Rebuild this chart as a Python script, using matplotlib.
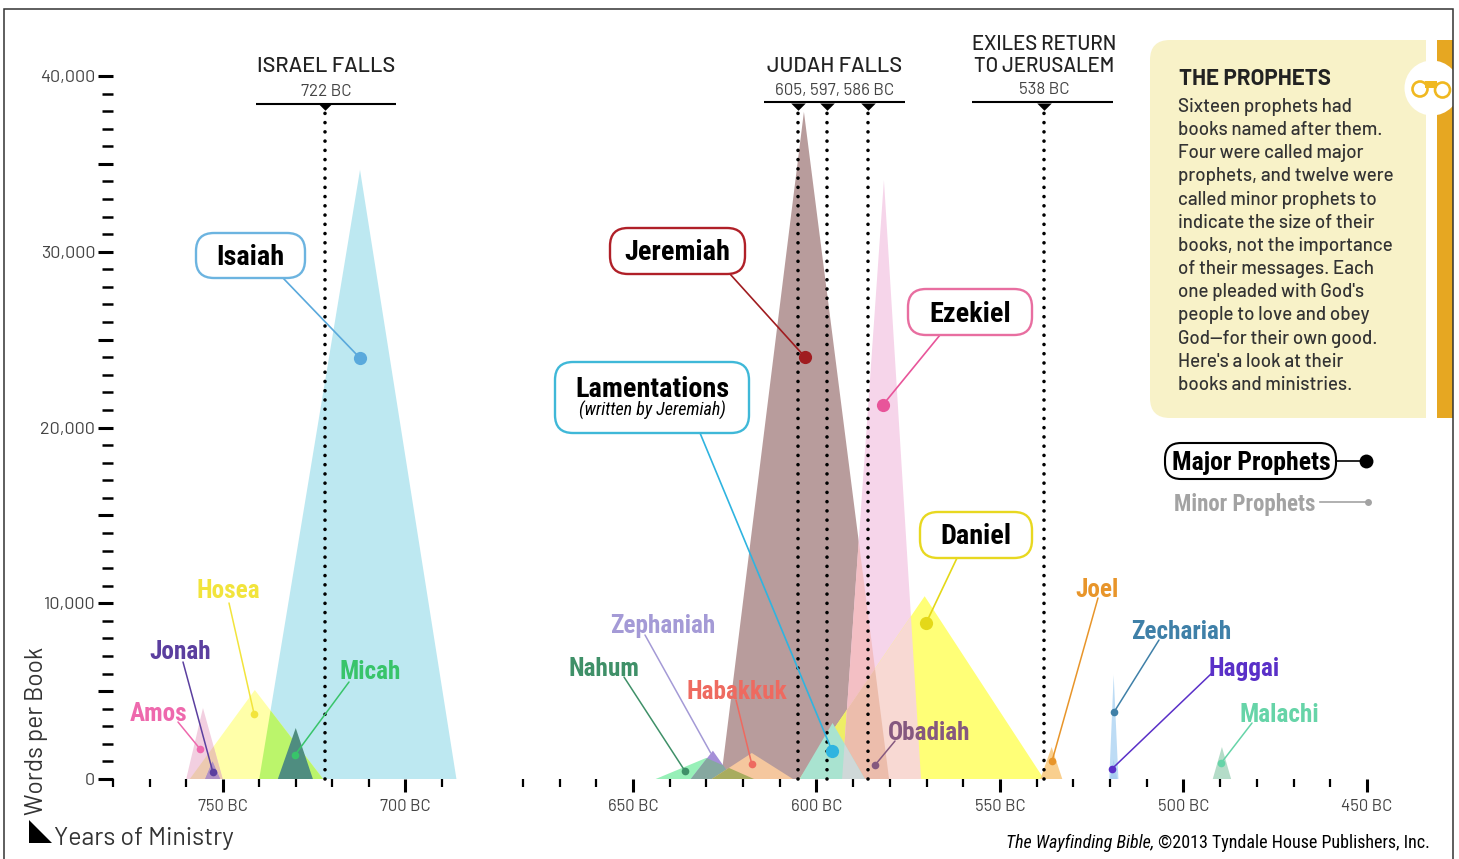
import numpy as np
from matplotlib import pyplot as plt
from matplotlib.patches import Circle, FancyBboxPatch, Polygon, Rectangle

#   GLOBAL
WIDTH = 1459
HEIGHT = 859
NARROW = ['Roboto Condensed', 'Archivo Narrow', 'Roboto']
DIN = ['Barlow', 'Roboto', 'DejaVu Sans']

#   books, one triangle each: ministry start/end in years BC, peak = words in book
book_names = ['Isaiah', 'Hosea', 'Amos', 'Jonah', 'Micah', 'Nahum', 'Jeremiah', 'Zephaniah',
              'Habakkuk', 'Ezekiel', 'Daniel', 'Lamentations', 'Obadiah', 'Joel', 'Zechariah',
              'Haggai', 'Malachi']
start_years = [740, 759, 760, 754.8, 734.9, 643.8, 626, 634.2, 628.5, 593, 604.6, 604.6, 586, 539, 520.2, 520, 492]
end_years = [686, 722.5, 750, 750.7, 725.3, 617, 580.2, 622.8, 606.4, 571.5, 538, 586.8, 582, 533, 517.7, 518, 487]
peak_years = [712.4, 741.2, 755.4, 752.8, 730, 630, 603.4, 628.2, 617.6, 581.6, 570.5, 595.6, 584, 535.9, 519, 519, 489.5]
peak_words = [34660, 5065, 4040, 1000, 2900, 1200, 37960, 1610, 1480, 34080, 10400, 3190, 650, 1820, 5920, 1100, 1820]
book_colors = ['#bde8f1', '#ffffa9', '#f2cfe0', '#b79cc8', '#4f8d80', '#97f0b8', '#b89c9c', '#a58fd8',
               '#f5c79e', '#f6d5ea', '#ffff77', '#a9e3d0', '#ecbdac', '#f9cf8e', '#bddcf5', '#a8cdf0', '#b4dcc8']

#   overlaps that have their own tint in the picture
overlap_books = [('Hosea', 'Isaiah'), ('Amos', 'Hosea'), ('Jonah', 'Amos'), ('Ezekiel', 'Jeremiah'),
                 ('Daniel', 'Jeremiah'), ('Ezekiel', 'Daniel'), ('Ezekiel', 'Jeremiah', 'Daniel'),
                 ('Zephaniah', 'Nahum'), ('Habakkuk', 'Nahum'), ('Lamentations', 'Ezekiel')]
overlap_colors = ['#bbf56b', '#ecc9b0', '#b190c4', '#f3bfc4', '#eeee66', '#f8d9d3', '#ecbdac',
                  '#86a8a0', '#a8ac5e', '#cfd8d8']

#   painter's order, singles and overlaps together
paint_order = ['Isaiah', 'Hosea', ('Hosea', 'Isaiah'), 'Amos', ('Amos', 'Hosea'), 'Jonah', ('Jonah', 'Amos'), 'Micah',
               'Nahum', 'Jeremiah', 'Zephaniah', ('Zephaniah', 'Nahum'), 'Habakkuk', ('Habakkuk', 'Nahum'),
               'Ezekiel', 'Daniel', ('Daniel', 'Jeremiah'), ('Ezekiel', 'Jeremiah'), ('Ezekiel', 'Daniel'),
               ('Ezekiel', 'Jeremiah', 'Daniel'), 'Lamentations', ('Lamentations', 'Ezekiel'), 'Obadiah',
               'Joel', 'Zechariah', 'Haggai', 'Malachi']

#   call-outs: year and word count of the dot on each triangle
major_names = ['Isaiah', 'Jeremiah', 'Ezekiel', 'Lamentations', 'Daniel']
major_years = [712.4, 603.1, 581.9, 595.7, 570.1]
major_words = [23950, 24010, 21280, 1590, 8880]
major_colors = ['#5aa9dc', '#a01c20', '#e8559a', '#2fb4e0', '#e4d818']
major_edges = ['#6cb4e0', '#b02028', '#e86ea0', '#3fb8d8', '#e8d820']

minor_names = ['Hosea', 'Jonah', 'Amos', 'Micah', 'Zephaniah', 'Nahum', 'Habakkuk', 'Obadiah', 'Joel',
               'Zechariah', 'Haggai', 'Malachi']
minor_years = [741.4, 752.7, 756.2, 730.2, 628.8, 635.8, 617.6, 584, 535.8, 518.9, 519.5, 489.7]
minor_words = [3700, 400, 1710, 1370, 1480, 450, 850, 800, 1020, 3810, 570, 910]
minor_colors = ['#f2e43c', '#5b3f9f', '#ee69ad', '#38c46a', '#a49ad6', '#3f9068', '#ee6a60', '#85587f',
                '#e8952a', '#3f80a8', '#5a30c8', '#66d4a8']

event_years = [722, 605, 597, 586, 538]
event_top_words = 38200

panel_title = 'THE PROPHETS'
panel_lines = ['Sixteen prophets had', 'books named after them.', 'Four were called major',
               'prophets, and twelve were', 'called minor prophets to', 'indicate the size of their',
               'books, not the importance', 'of their messages. Each', "one pleaded with God's",
               'people to love and obey', 'God\u2014for their own good.', "Here's a look at their",
               'books and ministries.']

x_major = [750, 700, 650, 600, 550, 500, 450]
x_minor = [780, 770, 760, 740, 730, 720, 710, 690, 680, 670, 660, 640, 630, 620, 610, 590, 580, 570, 560,
           540, 530, 520, 510, 490, 480, 470, 460]

#   layout in picture pixels (x, y from the top)
MAJOR_BOX = {'Isaiah': (196, 233, 305, 278), 'Jeremiah': (610, 228, 745, 274), 'Ezekiel': (908, 289, 1032, 335),
             'Lamentations': (555, 362, 749, 433), 'Daniel': (920, 512, 1032, 558)}
MAJOR_LEADER = {'Isaiah': (283, 278), 'Jeremiah': (730, 274), 'Ezekiel': (940, 335),
                'Lamentations': (700, 433), 'Daniel': (957, 558)}
MINOR_TEXT = {'Hosea': (228, 589), 'Jonah': (180, 650), 'Amos': (159, 712), 'Micah': (370, 670),
              'Zephaniah': (663, 624), 'Nahum': (604, 667), 'Habakkuk': (737, 690), 'Obadiah': (929, 731),
              'Joel': (1097, 588), 'Zechariah': (1181, 630), 'Haggai': (1244, 667), 'Malachi': (1279, 713)}
MINOR_LEADER = {'Hosea': (229, 603), 'Jonah': (183, 662), 'Amos': (178, 722), 'Micah': (349, 682),
                'Zephaniah': (645, 635), 'Nahum': (624, 677), 'Habakkuk': (736, 700), 'Obadiah': (895, 741),
                'Joel': (1098, 598), 'Zechariah': (1159, 640), 'Haggai': (1212, 673), 'Malachi': (1252, 723)}
TEXT_DY = 2


def year_to_px(year):
    year = np.asarray(year, dtype=float)
    return np.where(year >= 684, 222.7 + (750 - year) * 3.652, 816.4 + (600 - year) * 3.67)


def px_to_year(px):
    px = np.asarray(px, dtype=float)
    return np.where(px <= 485, 750 - (px - 222.7) / 3.652, 600 - (px - 816.4) / 3.67)


def time_forward(year):
    #   the time axis jumps between 690 and 680 BC; negative so the scale keeps rising
    return -year_to_px(year)


def time_inverse(value):
    return px_to_year(-np.asarray(value, dtype=float))


def clip_triangle(subject, window):
    #   Sutherland-Hodgman, both convex
    output = list(subject)
    a0, a1, a2 = [np.array(p, dtype=float) for p in window]
    u, v = a1 - a0, a2 - a0
    sign = np.sign(u[0] * v[1] - u[1] * v[0])

    def side(a, b, p):
        d = b - a
        return sign * (d[0] * (p[1] - a[1]) - d[1] * (p[0] - a[0]))

    for i in range(3):
        a, b = np.array(window[i], dtype=float), np.array(window[(i + 1) % 3], dtype=float)
        current, output = output, []
        for j, p in enumerate(current):
            q = current[(j + 1) % len(current)]
            sp, sq = side(a, b, p), side(a, b, q)
            if sp >= 0:
                output.append(p)
            if (sp >= 0) != (sq >= 0):
                t = sp / (sp - sq)
                output.append((p[0] + t * (q[0] - p[0]), p[1] + t * (q[1] - p[1])))
        if not output:
            return []
    return output


def main():

    fig = plt.figure(figsize=(WIDTH / 100, HEIGHT / 100), dpi=100, facecolor='white')

    #   chart axes fill the figure, so that year/word scales land on the picture's pixels
    ax = fig.add_axes([0, 0, 1, 1], facecolor='none')
    ax.set_xscale('function', functions=(time_forward, time_inverse))
    x_left, x_right = float(px_to_year(0)), float(px_to_year(WIDTH))
    y_bottom, y_top = (779 - HEIGHT) / 0.017575, 779 / 0.017575

    #   overlay axes in picture pixels for boxes and texts
    ov = fig.add_axes([0, 0, 1, 1], facecolor='none', zorder=3)
    ov.set_xlim(0, WIDTH)
    ov.set_ylim(HEIGHT, 0)
    ov.axis('off')

    ########################
    #   triangles
    triangles = {}
    for i, name in enumerate(book_names):
        triangles[name] = [(start_years[i], 0), (peak_years[i], peak_words[i]), (end_years[i], 0)]

    for order, item in enumerate(paint_order):
        if isinstance(item, str):
            region, color = triangles[item], book_colors[book_names.index(item)]
        else:
            region = triangles[item[0]]
            for other in item[1:]:
                region = clip_triangle(region, triangles[other])
            color = overlap_colors[overlap_books.index(item)]
        if len(region) > 2:
            ax.add_patch(Polygon(region, closed=True, fc=color, ec='none', zorder=2 + order * 0.01))

    #   event lines
    ax.vlines(event_years, 0, event_top_words, colors='black', lw=2.6, zorder=4,
              linestyles=[(0, (0.01, 2.55))], capstyle='round')
    ax.plot(event_years, [event_top_words + 250] * len(event_years), ls='none',
            marker=[(-1, 0), (1, 0), (0, -1)], ms=10.5, mfc='black', mec='black', mew=0, zorder=4)

    ########################
    #   axes ticks
    for side in ['top', 'right', 'left', 'bottom']:
        ax.spines[side].set_visible(False)
    ax.spines['left'].set_position(('data', 780))
    ax.spines['bottom'].set_position(('data', 0))

    ax.set_xticks(x_major)
    ax.set_xticklabels(['%d BC' % y for y in x_major], fontfamily=DIN, fontsize=12, color='#444444')
    ax.set_xticks(x_minor, minor=True)
    ax.tick_params(axis='x', which='major', length=9.5, width=2.2, direction='out', pad=5)
    ax.tick_params(axis='x', which='minor', length=6, width=1.6, direction='out')

    y_major = np.arange(0, 40001, 5000)
    ax.set_yticks(y_major)
    ax.set_yticklabels(['{:,}'.format(v) if v % 10000 == 0 else '' for v in y_major],
                       fontfamily=DIN, fontsize=13, color='#444444')
    ax.set_yticks(np.arange(0, 40001, 1000), minor=True)
    ax.tick_params(axis='y', which='major', length=10.8, width=2.2, direction='out', pad=2)
    ax.tick_params(axis='y', which='minor', length=8, width=1.8, direction='out')

    #   limits after the ticks, which would widen them
    ax.set_xlim(x_left, x_right)
    ax.set_ylim(y_bottom, y_top)

    ########################
    #   call-outs
    for i, name in enumerate(major_names):
        x0, y0, x1, y1 = MAJOR_BOX[name]
        ov.add_patch(FancyBboxPatch((x0 + 16, y0 + 16), x1 - x0 - 32, y1 - y0 - 32,
                                    boxstyle='round,pad=16,rounding_size=18', fc='white',
                                    ec=major_edges[i], lw=1.7, zorder=3))
        cx, cy = (x0 + x1) / 2, (y0 + y1) / 2 + TEXT_DY
        if name == 'Lamentations':
            ov.text(cx, cy - 10, name, ha='center', va='center', fontfamily=NARROW, fontweight='bold',
                    fontsize=20.3, color='black', zorder=4)
            ov.text(cx, cy + 11, '(written by Jeremiah)', ha='center', va='center', fontfamily=NARROW,
                    fontstyle='italic', fontsize=13, color='black', zorder=4)
        else:
            ov.text(cx, cy, name, ha='center', va='center', fontfamily=NARROW, fontweight='bold',
                    fontsize=20.3, color='black', zorder=4)
        ax.annotate('', xy=(major_years[i], major_words[i]), xytext=MAJOR_LEADER[name], textcoords=ov.transData,
                    arrowprops=dict(arrowstyle='-', color=major_colors[i], lw=1.2, shrinkA=0, shrinkB=0), zorder=5)
        ax.plot(major_years[i], major_words[i], marker='o', ms=9.5, mew=0, color=major_colors[i], zorder=6)

    for i, name in enumerate(minor_names):
        tx, ty = MINOR_TEXT[name]
        ov.text(tx, ty + TEXT_DY, name, ha='center', va='center', fontfamily=NARROW, fontweight='bold',
                fontsize=18.2, color=minor_colors[i], zorder=4)
        ax.annotate('', xy=(minor_years[i], minor_words[i]), xytext=MINOR_LEADER[name], textcoords=ov.transData,
                    arrowprops=dict(arrowstyle='-', color=minor_colors[i], lw=1.1, shrinkA=0, shrinkB=0), zorder=5)
        if name != 'Zephaniah':
            ax.plot(minor_years[i], minor_words[i], marker='o', ms=5.5, mew=0, color=minor_colors[i], zorder=6)

    ########################
    #   event headings
    for title, sub, cx, ys, line_x, line_y, size in [
            (['ISRAEL FALLS'], '722 BC', 326, [66], (256, 396), 104, 15.6),
            (['JUDAH FALLS'], '605, 597, 586 BC', 835, [65], (764, 905), 102, 15.6),
            (['EXILES RETURN', 'TO JERUSALEM'], '538 BC', 1044, [44, 65], (972, 1113), 102, 14.6)]:
        for line, y in zip(title, ys):
            ov.text(cx, y + TEXT_DY - 1, line, ha='center', va='center', fontfamily=DIN, fontweight='medium',
                    fontsize=size, color='#222222')
        ov.text(cx, (90 if line_y == 104 else 89) + TEXT_DY - 1, sub, ha='center', va='center', fontfamily=DIN,
                fontsize=12.2, color='#444444')
        ov.plot(line_x, [line_y, line_y], color='black', lw=1.5, solid_capstyle='butt')

    ########################
    #   side panel
    panel = '#f8f2c8'
    ov.add_patch(FancyBboxPatch((1170, 60), 210, 338, boxstyle='round,pad=20,rounding_size=20', fc=panel, ec='none'))
    ov.add_patch(Rectangle((1300, 40), 126, 378, fc=panel, ec='none'))
    ov.add_patch(Rectangle((1437, 40), 16, 378, fc='#e6a722', ec='none'))
    ov.add_patch(Circle((1432, 88), 27.5, fc='white', ec='none'))
    for cx, cy in [(1420, 89), (1442.5, 90)]:
        ov.add_patch(Circle((cx, cy), 7.5, fc='none', ec='#f0b820', lw=1.9))
    ov.add_patch(Rectangle((1425, 81), 12, 7, fc='#f0b820', ec='none'))
    ov.add_patch(Rectangle((1453, 0), 6, HEIGHT, fc='white', ec='none'))

    ov.text(1179, 77 + TEXT_DY, panel_title, ha='left', va='center', fontfamily=DIN, fontweight='bold', fontsize=16,
            color='#222222')
    for i, line in enumerate(panel_lines):
        ov.text(1178, 105 + TEXT_DY + 23.15 * i, line, ha='left', va='center', fontfamily=DIN, fontweight='medium',
                fontsize=13.5, color='#333333')

    #   legend
    ov.add_patch(FancyBboxPatch((1181, 459), 139, 4, boxstyle='round,pad=16,rounding_size=16', fc='white',
                                ec='black', lw=1.5))
    ov.text(1251, 461 + TEXT_DY, 'Major Prophets', ha='center', va='center', fontfamily=NARROW, fontweight='bold',
            fontsize=18.5, color='black')
    ov.plot([1336, 1366], [461, 461], color='black', lw=1.2)
    ov.plot(1366, 461, marker='o', ms=10, mew=0, color='black')
    ov.text(1174, 502 + TEXT_DY, 'Minor Prophets', ha='left', va='center', fontfamily=NARROW, fontweight='bold',
            fontsize=16.5, color='#a3a3a3')
    ov.plot([1320, 1368], [502, 502], color='#a3a3a3', lw=1.2)
    ov.plot(1368, 502, marker='o', ms=5, mew=0, color='#a3a3a3')

    ########################
    #   axis captions and credit
    ov.text(37, 815, 'Words per Book', rotation=90, ha='center', va='bottom', fontfamily=DIN, fontsize=17.6,
            color='#333333')
    ov.add_patch(Polygon([(29, 820), (29, 843), (52, 843)], closed=True, fc='black', ec='none'))
    ov.text(54, 838, 'Years of Ministry', ha='left', va='center', fontfamily=DIN, fontsize=18, color='#333333')
    credit = ov.text(1430, 843, ' \u00a92013 Tyndale House Publishers, Inc.', ha='right', va='center',
                     fontfamily=NARROW, fontsize=13, color='black')
    ov.annotate('The Wayfinding Bible,', xy=(0, 0), xycoords=credit, ha='right', va='bottom',
                fontfamily=NARROW, fontstyle='italic', fontsize=13, color='black')

    #   frame, open at the bottom
    ov.plot([4, 4, 1453, 1453], [HEIGHT, 9, 9, HEIGHT], color='#333333', lw=1.1, solid_joinstyle='miter')

    fig.savefig('out.png', dpi=100)

    return


if __name__ == '__main__':
    main()
